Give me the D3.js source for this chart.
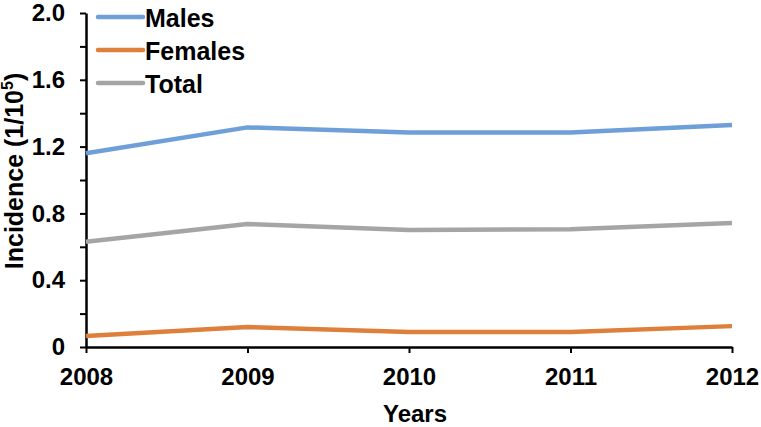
<!DOCTYPE html>
<html><head><meta charset="utf-8">
<script src="https://cdn.jsdelivr.net/npm/d3@7"></script>
<style>body{margin:0;background:#fff}svg{display:block}text{font-family:Arial,"Liberation Sans",sans-serif;font-weight:bold}</style>
</head><body><svg id="c" width="761" height="427"></svg>
<script>
const years = [2008, 2009, 2010, 2011, 2012];
const males = [1.16, 1.315, 1.285, 1.285, 1.33];
const females = [0.066, 0.12, 0.09, 0.09, 0.125];
const total = [0.63, 0.737, 0.70, 0.705, 0.743];
const seriesNames = ["Males", "Females", "Total"];
const seriesColors = ["#6f9fd9", "#df7f3c", "#a5a5a5"];
const yTicks = [0, 0.2, 0.4, 0.6, 0.8, 1.0, 1.2, 1.4, 1.6, 1.8, 2.0];
const yLabelled = [0, 0.4, 0.8, 1.2, 1.6, 2.0];

const svg = d3.select("#c");
const x = d3.scaleLinear().domain([2008, 2012]).range([86, 732]);
const y = d3.scaleLinear().domain([0, 2.0]).range([347, 13]);

const series = [males, females, total];
const FONT = "Arial, 'Liberation Sans', sans-serif";

// Y axis
const yAxis = d3.axisLeft(y).tickValues(yTicks).tickSize(6).tickSizeOuter(0)
  .tickFormat(d => yLabelled.some(v => Math.abs(v - d) < 1e-9) ? (d === 0 ? "0" : d3.format(".1f")(d)) : "");
const gy = svg.append("g").attr("transform", "translate(86,0)").call(yAxis);
gy.select(".domain").attr("stroke", "#000").attr("stroke-width", 2.5);
gy.selectAll(".tick line").attr("stroke", "#000").attr("stroke-width", 2);
gy.selectAll(".tick text").attr("font-size", 24).attr("font-family", FONT).attr("font-weight", "bold").attr("fill", "#000").attr("x", -21);

// X axis
const xAxis = d3.axisBottom(x).tickValues(years).tickFormat(d3.format("d")).tickSize(6).tickSizeOuter(0);
const gx = svg.append("g").attr("transform", "translate(0,347)").call(xAxis);
gx.select(".domain").attr("stroke", "#000").attr("stroke-width", 2.5);
gx.selectAll(".tick line").attr("stroke", "#000").attr("stroke-width", 2);
gx.selectAll(".tick text").attr("font-size", 24).attr("font-family", FONT).attr("font-weight", "bold").attr("fill", "#000").attr("y", 21);

// Lines
const line = d3.line().x((d, i) => x(years[i])).y(d => y(d));
series.forEach((s, k) => {
  svg.append("path").datum(s).attr("d", line).attr("fill", "none")
    .attr("stroke", seriesColors[k]).attr("stroke-width", 4.5).attr("stroke-linejoin", "round");
});

// Legend
seriesNames.forEach((n, k) => {
  const ly = 17 + k * 33;
  svg.append("line").attr("x1", 98).attr("x2", 143).attr("y1", ly).attr("y2", ly)
    .attr("stroke", seriesColors[k]).attr("stroke-width", 4.5).attr("stroke-linecap", "round");
  svg.append("text").attr("x", 145).attr("y", ly + 10).attr("font-size", 25).attr("fill", "#000").text(n);
});

// Axis titles
svg.append("text").attr("x", 415).attr("y", 422).attr("text-anchor", "middle").attr("font-size", 24).text("Years");
const yt = svg.append("text").attr("transform", "translate(23,171) rotate(-90)").attr("text-anchor", "middle").attr("font-size", 25);
yt.append("tspan").text("Incidence (1/10");
yt.append("tspan").attr("font-size", 16).attr("dy", -10).text("5");
yt.append("tspan").attr("dy", 10).text(")");
</script></body></html>
